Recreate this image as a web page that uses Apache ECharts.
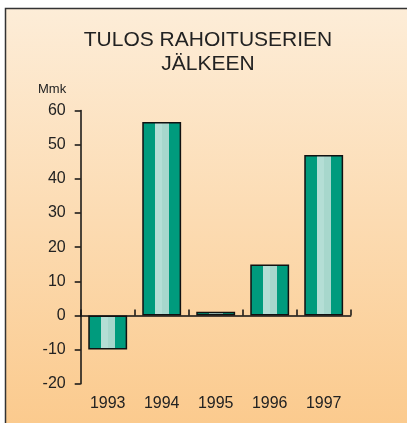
<!DOCTYPE html>
<html><head><meta charset="utf-8">
<script src="https://cdn.jsdelivr.net/npm/echarts@6/dist/echarts.min.js"></script>
<style>html,body{margin:0;padding:0;background:#fff}#c{width:407px;height:423px}</style>
</head><body><div id="c"></div>
<script>
const categories = ['1993','1994','1995','1996','1997'];
const values = [-10, 56.6, 1.1, 14.9, 47.0];
const yMin = -20, yMax = 60, yStep = 10;
const titleLines = ['TULOS RAHOITUSERIEN', 'JÄLKEEN'];
const unitLabel = 'Mmk';

const chart = echarts.init(document.getElementById('c'), null, {renderer:'canvas'});
const dark = '#009b7d';
const barFill = new echarts.graphic.LinearGradient(0,0,1,0,[
  {offset:0,color:dark},{offset:0.325,color:dark},
  {offset:0.325,color:'#b4ded5'},{offset:0.5,color:'#b4ded5'},
  {offset:0.5,color:'#a7d7cc'},{offset:0.68,color:'#a7d7cc'},
  {offset:0.68,color:dark},{offset:1,color:dark}
]);
const font = '"Liberation Sans", Arial, sans-serif';
chart.setOption({
  animation:false,
  graphic:[
    {type:'rect', z:-10, shape:{x:5.5,y:8.5,width:420,height:430},
     style:{fill:new echarts.graphic.LinearGradient(0,0,0,1,[{offset:0,color:'#fdedd8'},{offset:1,color:'#fbc98b'}]), stroke:'#333', lineWidth:1.5}},
    {type:'text', x:208, y:28, style:{text:titleLines.join('\n'), font:'21px '+font, fill:'#222', textAlign:'center', align:'center', lineHeight:24}},
    {type:'text', x:38, y:83, style:{text:unitLabel, font:'13px '+font, fill:'#222'}}
  ],
  grid:{left:80.7, right:56.3, top:110.5, bottom:39.3, containLabel:false},
  xAxis:[
    {type:'category', data:categories, boundaryGap:true,
     axisLine:{onZero:true, lineStyle:{color:'#111', width:1.5}},
     axisTick:{show:true, inside:true, length:6, alignWithLabel:false, lineStyle:{color:'#111', width:1.5}},
     axisLabel:{show:false}},
    {type:'category', data:categories, position:'bottom', boundaryGap:true,
     axisLine:{show:false, onZero:false}, axisTick:{show:false},
     axisLabel:{show:true, margin:12, color:'#222', fontSize:16, fontFamily:font}}
  ],
  yAxis:{type:'value', min:yMin, max:yMax, interval:yStep,
    axisLine:{show:true, lineStyle:{color:'#111', width:1.5}},
    axisTick:{show:true, length:6, lineStyle:{color:'#111', width:1.5}},
    splitLine:{show:false},
    axisLabel:{margin:15, color:'#222', fontSize:16, fontFamily:font}},
  series:[{type:'bar', data:values, xAxisIndex:0, barWidth:'72%',
    itemStyle:{color:barFill, borderColor:'#111', borderWidth:1.5}}]
});
</script></body></html>
